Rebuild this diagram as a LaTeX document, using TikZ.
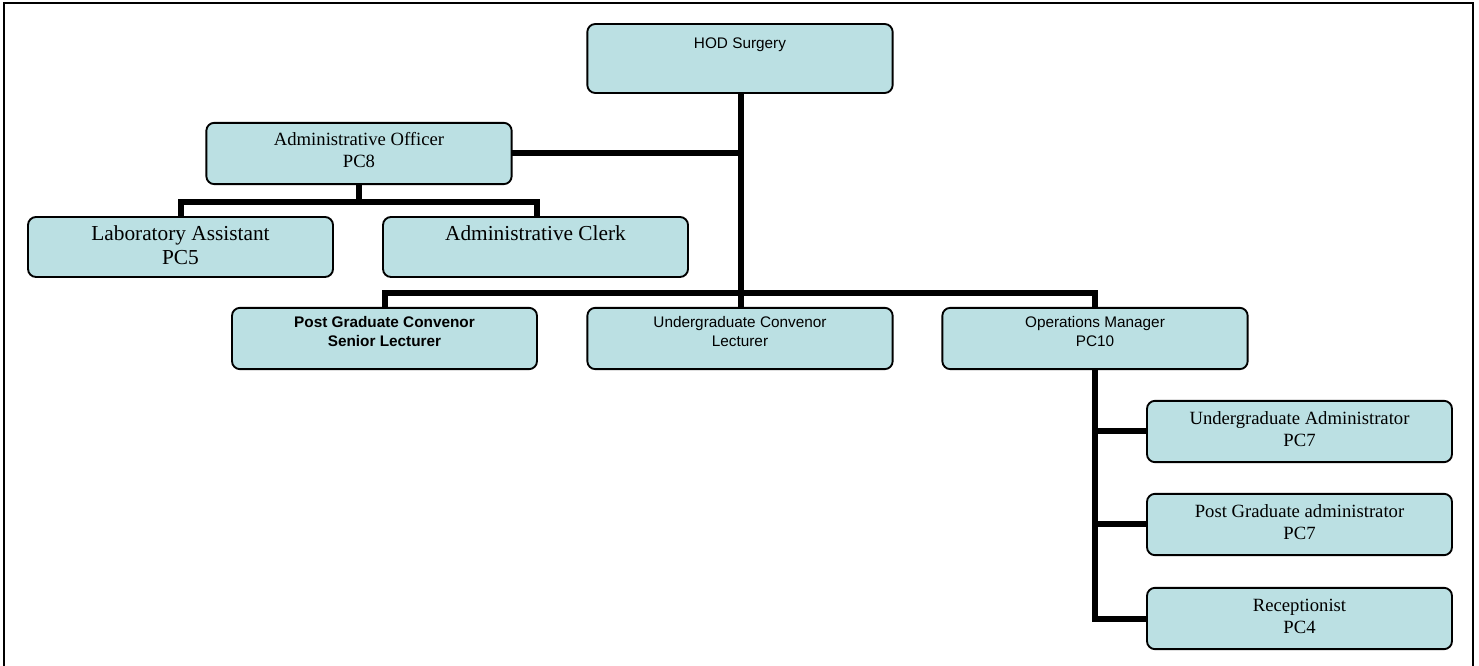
\documentclass[tikz,border=0pt]{standalone}
\usepackage{fontspec}
\setmainfont{Liberation Serif}
\newfontfamily\arialf{Liberation Sans}
\definecolor{boxfill}{HTML}{BBE0E3}
\begin{document}
\begin{tikzpicture}[x=0.75pt,y=-0.75pt,
  box/.style={draw=black,fill=boxfill,line width=1.4pt,rounded corners=6pt,inner sep=0pt,outer sep=0pt,minimum width=229pt,minimum height=46pt},
  wire/.style={line width=4.5pt,line join=miter},
  frame/.style={line width=1.5pt},
  sanstxt/.style={anchor=north,inner sep=0pt,align=center,font=\arialf\fontsize{11.5}{14.5}\selectfont},
  sanstxtb/.style={sanstxt,font=\arialf\bfseries\fontsize{11.5}{14.5}\selectfont},
  sertxt/.style={anchor=north,inner sep=0pt,align=center,font=\fontsize{14}{16.5}\selectfont},
  bigtxt/.style={anchor=north,inner sep=0pt,align=center,font=\fontsize{16}{18}\selectfont}]
\useasboundingbox (0,0) rectangle (1479,666);
% frame
\draw[frame] (4,672) -- (4,3) -- (1473,3) -- (1473,672);
% boxes
\node[box,minimum height=51.75pt] (hod) at (740,58.5) {};
\node[box] (ao) at (359,153.5) {};
\node[box,minimum width=228.75pt,minimum height=45pt] (lab) at (180.5,247) {};
\node[box,minimum width=228.75pt,minimum height=45pt] (clerk) at (535.5,247) {};
\node[box,minimum width=228.75pt] (pgc) at (384.5,338.5) {};
\node[box] (ugc) at (740,338.5) {};
\node[box] (ops) at (1095,338.5) {};
\node[box,minimum width=228.75pt] (uga) at (1299.5,431.5) {};
\node[box,minimum width=228.75pt] (pga) at (1299.5,524.5) {};
\node[box,minimum width=228.75pt] (rec) at (1299.5,618.5) {};
% texts
\node[sanstxt] (thod) at ([yshift=-10pt]hod.north) {HOD Surgery};
\node[sertxt] (tao) at ([yshift=-7pt]ao.north) {Administrative Officer\\PC8};
\node[bigtxt] (tlab) at ([yshift=-6pt]lab.north) {Laboratory Assistant\\PC5};
\node[bigtxt] (tclerk) at ([yshift=-6pt]clerk.north) {Administrative Clerk};
\node[sanstxtb] (tpgc) at ([yshift=-6pt]pgc.north) {Post Graduate Convenor\\Senior Lecturer};
\node[sanstxt] (tugc) at ([yshift=-6pt]ugc.north) {Undergraduate Convenor\\Lecturer};
\node[sanstxt] (tops) at ([yshift=-6pt]ops.north) {Operations Manager\\PC10};
\node[sertxt] (tuga) at ([yshift=-8pt]uga.north) {Undergraduate Administrator\\PC7};
\node[sertxt] (tpga) at ([yshift=-8pt]pga.north) {Post Graduate administrator\\PC7};
\node[sertxt] (trec) at ([yshift=-8pt]rec.north) {Receptionist\\PC4};
% junction coordinates
\coordinate (hodbar) at (741,293);
\coordinate (aojoin) at (741,153.5);
\coordinate (aobar) at (359,202);
\coordinate (aobarL) at (181,202);
\coordinate (aobarR) at (537,202);
\coordinate (barL) at (385,293);
\coordinate (barR) at (1095,293);
\coordinate (opsend) at (1095,618.5);
% connectors
\draw[wire] (hod.south -| hodbar) -- (hodbar) -- (ugc.north -| hodbar);
\draw[wire] (ao.east) -- (aojoin);
\draw[wire] (ao.south) -- (aobar);
\draw[wire] (lab.north -| aobarL) -- (aobarL) -- (aobarR) -- (clerk.north -| aobarR);
\draw[wire] (pgc.north -| barL) -- (barL) -- (barR) -- (ops.north -| barR);
\draw[wire] (ops.south -| barR) -- (opsend) -- (rec.west);
\draw[wire] (uga.west -| barR) -- (uga.west);
\draw[wire] (pga.west -| barR) -- (pga.west);
\end{tikzpicture}
\end{document}
